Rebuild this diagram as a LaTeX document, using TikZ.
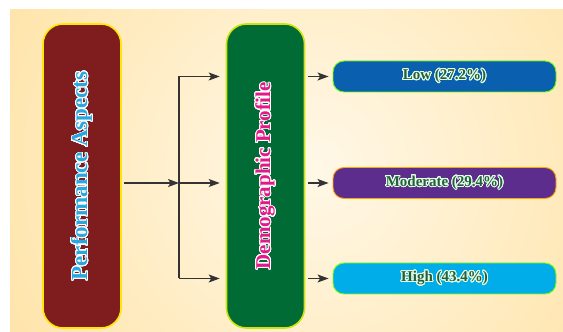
\documentclass[tikz,border=0pt]{standalone}
\usepackage{fontspec}
\setmainfont{Liberation Serif}
\usepackage{contour}
\contourlength{0.9pt}
\contournumber{32}
\usetikzlibrary{arrows.meta}

\definecolor{bgOuter}{HTML}{FFD57A}
\definecolor{bgInner}{HTML}{FFF8E8}
\definecolor{paFill}{HTML}{7E1C1E}
\definecolor{paText}{HTML}{2AA7DF}
\definecolor{dpFill}{HTML}{006B35}
\definecolor{dpText}{HTML}{E3198A}
\definecolor{lowFill}{HTML}{0B5FAF}
\definecolor{modFill}{HTML}{5C2D8C}
\definecolor{highFill}{HTML}{00ADE8}
\definecolor{levelText}{HTML}{245E40}
\definecolor{lineGray}{HTML}{333333}

\tikzset{
  bigbox/.style={rotate=90, rounded corners=20pt, line width=1.6pt,
    minimum width=304pt, minimum height=78pt, inner sep=0pt,
    font=\bfseries\fontsize{23}{23}\selectfont},
  levelbox/.style={rounded corners=11pt, line width=0.9pt,
    minimum width=223pt, minimum height=31pt, inner sep=0pt,
    text=levelText, font=\bfseries\fontsize{15}{15}\selectfont},
  arr/.style={-{Stealth[length=11pt,width=8pt,inset=2.5pt]},
    line width=1.1pt, draw=lineGray, fill=lineGray}
}

\begin{document}
\begin{tikzpicture}[x=1pt,y=1pt]
    \useasboundingbox (0,0) rectangle (563,332);
    % Draw the background
    \begin{scope}
      \clip (10,0) rectangle (563,322);
      \shade[inner color=bgInner, outer color=bgOuter] (315,165) circle (620);
    \end{scope}
    % Draw the two tall boxes
    \node[bigbox, fill=paFill, draw=yellow!90!orange, text=paText] (pa) at (82,156)
      {\contour{white}{Performance Aspects}};
    \node[bigbox, fill=dpFill, draw=yellow!80!green, text=dpText,
      font=\bfseries\fontsize{21}{21}\selectfont] (dp) at (265.5,156)
      {\contour{white}{Demographic Profile}};
    % Draw the level boxes
    \node[levelbox, fill=lowFill, draw=green!60!yellow] (low) at (444.5,255.5)
      {\contour{white!90!green}{Low (27.2\%)}};
    \node[levelbox, fill=modFill, draw=orange!70!yellow] (mod) at (444.5,149)
      {\contour{white!90!green}{Moderate (29.4\%)}};
    \node[levelbox, fill=highFill, draw=green!50!yellow] (high) at (444.5,53.5)
      {\contour{white!90!green}{High (43.4\%)}};
    % Draw the connectors
    \coordinate (split) at (179,149);
    \coordinate (splittop) at (179,255.5);
    \coordinate (splitbot) at (179,53.5);
    \draw[arr, shorten <=2pt] (split -| pa.south) -- (split);
    \draw[line width=1.1pt, draw=lineGray] (splittop) -- (splitbot);
    \foreach \lvl in {low,mod,high}{
      \draw[arr, shorten >=6pt] (split |- \lvl) -- (dp.north |- \lvl);
      \draw[arr, shorten <=3pt, shorten >=4pt] (dp.south |- \lvl) -- (\lvl.west);
    }
  \end{tikzpicture}
\end{document}
